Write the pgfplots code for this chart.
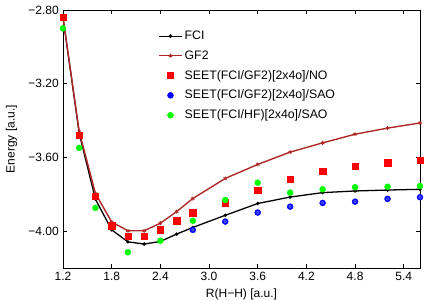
\documentclass[border=0pt]{standalone}
\usepackage{fontspec}
\setmainfont{Liberation Sans}
\usepackage{pgfplots}
\pgfplotsset{compat=1.18}
\definecolor{gftwo}{RGB}{175,40,40}
\begin{document}
\fontsize{12bp}{14bp}\selectfont
\begin{tikzpicture}
\path[use as bounding box] (-63bp,-32bp) rectangle (373bp,268bp);
\begin{axis}[
  at={(0,0)}, anchor=south west,
  scale only axis, width=357bp, height=258bp,
  xmin=1.2, xmax=5.6, ymin=-4.2, ymax=-2.8,
  xtick={1.2,1.8,2.4,3.0,3.6,4.2,4.8,5.4},
  xticklabels={1.2,1.8,2.4,3.0,3.6,4.2,4.8,5.4},
  ytick={-2.8,-3.2,-3.6,-4.0},
  yticklabels={−2.80,−3.20,−3.60,−4.00},
  tick align=inside, major tick length=4bp,
  tick style={black, line width=0.6pt},
  axis line style={black, line width=0.8pt},
  xlabel={R(H−H) [a.u.]}, ylabel={Energy [a.u.]},
  xlabel style={yshift=0bp},
  ylabel style={yshift=3bp},
  clip=false,
  legend style={draw=none, fill=none, at={(0.258,0.935)}, anchor=north west,
    row sep=5.2bp, font=\fontsize{12.3bp}{14bp}\selectfont},
  legend cell align=left,
  legend image code/.code={\draw[mark repeat=2,mark phase=2,#1] plot coordinates {(0bp,0bp) (11.5bp,0bp) (23bp,0bp)};},
]
\addplot[black, line width=1.3pt, mark=*, mark size=1pt] coordinates {
(1.2,-2.84) (1.4,-3.47) (1.6,-3.827) (1.8,-3.993) (2.0,-4.058) (2.2,-4.070) (2.4,-4.056) (2.6,-4.016) (2.8,-3.98) (3.2,-3.914) (3.6,-3.850) (4.0,-3.815) (4.4,-3.791) (4.8,-3.782) (5.2,-3.777) (5.6,-3.773)};
\addlegendentry{FCI}
\addplot[gftwo, line width=1.4pt, mark=asterisk, mark size=2pt, mark options={line width=0.8pt}] coordinates {
(1.2,-2.84) (1.4,-3.46) (1.6,-3.796) (1.8,-3.95) (2.0,-3.998) (2.2,-3.998) (2.4,-3.957) (2.6,-3.894) (2.8,-3.823) (3.2,-3.714) (3.6,-3.638) (4.0,-3.571) (4.4,-3.521) (4.8,-3.474) (5.2,-3.441) (5.6,-3.413)};
\addlegendentry{GF2}
\addplot[only marks, mark=square*, mark size=3.2bp, red, mark options={draw=red, fill=red}] coordinates {
(1.2,-2.84) (1.4,-3.48) (1.6,-3.809) (1.8,-3.971) (2.0,-4.029) (2.2,-4.029) (2.4,-3.993) (2.6,-3.944) (2.8,-3.899) (3.2,-3.845) (3.6,-3.778) (4.0,-3.719) (4.4,-3.674) (4.8,-3.647) (5.2,-3.629) (5.6,-3.614)};
\addlegendentry{SEET(FCI/GF2)[2x4o]/NO}
\addplot[only marks, mark=*, mark size=3bp, blue, mark options={draw=blue, fill=blue}] coordinates {
(2.8,-3.993) (3.2,-3.948) (3.6,-3.899) (4.0,-3.867) (4.4,-3.847) (4.8,-3.840) (5.2,-3.825) (5.6,-3.816)};
\addlegendentry{SEET(FCI/GF2)[2x4o]/SAO}
\addplot[only marks, mark=*, mark size=3bp, green, mark options={draw=green, fill=green}] coordinates {
(1.2,-2.90) (1.4,-3.548) (1.6,-3.874) (2.0,-4.115) (2.4,-4.052) (2.8,-3.944) (3.2,-3.831) (3.6,-3.737) (4.0,-3.791) (4.4,-3.773) (4.8,-3.762) (5.2,-3.759) (5.6,-3.755)};
\addlegendentry{SEET(FCI/HF)[2x4o]/SAO}
\addplot[only marks, forget plot, mark=o, mark size=1.3bp, blue!55!white, mark options={line width=0.5pt}] coordinates {
(2.8,-3.993) (3.2,-3.948) (3.6,-3.899) (4.0,-3.867) (4.4,-3.847) (4.8,-3.840) (5.2,-3.825) (5.6,-3.816)};
\end{axis}
\end{tikzpicture}
\end{document}
